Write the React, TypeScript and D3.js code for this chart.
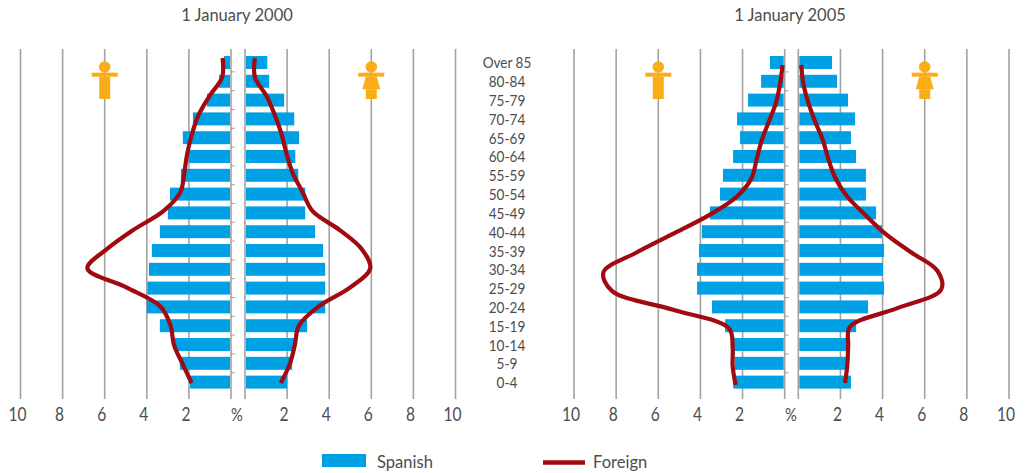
import React from "react";
import * as d3 from "d3";

const ageGroups = ["Over 85","80-84","75-79","70-74","65-69","60-64","55-59","50-54","45-49","40-44","35-39","30-34","25-29","20-24","15-19","10-14","5-9","0-4"];
const axisTicks = [2,4,6,8,10];

const spanishMale2000 = [0.33,0.57,1.14,1.81,2.29,2.0,2.38,2.9,3.0,3.38,3.76,3.9,3.97,4.0,3.38,2.67,2.43,1.95];
const spanishFemale2000 = [1.06,1.15,1.86,2.34,2.57,2.39,2.53,2.86,2.86,3.33,3.71,3.81,3.81,3.81,2.95,2.34,2.24,2.0];
const foreignMale2000 = [0.4,0.42,1.03,1.55,1.86,2.08,2.22,2.4,3.2,4.65,5.9,6.82,4.97,3.35,2.87,2.71,2.3,1.87];
const foreignFemale2000 = [0.47,0.47,1.03,1.42,1.74,1.97,2.26,2.73,3.2,4.5,5.55,5.95,5.0,3.5,2.56,2.37,2.13,1.7];

const spanishMale2005 = [0.7,1.12,1.74,2.26,2.12,2.45,2.93,3.07,3.55,3.93,4.07,4.16,4.16,3.45,2.83,2.41,2.37,2.44];
const spanishFemale2005 = [1.6,1.84,2.36,2.69,2.5,2.74,3.21,3.21,3.69,3.97,4.07,4.02,4.07,3.31,2.74,2.33,2.26,2.5];
const foreignMale2005 = [0.1,0.22,0.41,0.75,1.09,1.33,1.57,2.28,3.63,5.36,7.1,8.6,8.2,5.3,2.64,2.47,2.47,2.33];
const foreignFemale2005 = [0.14,0.24,0.47,0.79,1.16,1.42,1.74,2.3,3.17,4.11,5.33,6.6,6.78,4.7,2.45,2.37,2.33,2.22];

const FONT = "'Lato',sans-serif";
const TEXT = "#4d4d4d";
const GRID = "#a3a3a3";
const BLUE = "#00a1e4";
const RED = "#a00a10";
const ORANGE = "#fbad18";

const yBand = d3.scaleBand<string>().domain(ageGroups).range([56, 388.6]).paddingInner(0.31);

function Txt({ x, y, size, sx, anchor = "middle", children }: { x: number; y: number; size: number; sx: number; anchor?: string; children: React.ReactNode }) {
  return (
    <text transform={`translate(${x},${y}) scale(${sx},1)`} textAnchor={anchor as any} fontSize={size} fill={TEXT} fontFamily={FONT}>
      {children}
    </text>
  );
}

function Figure({ cx, female }: { cx: number; female: boolean }) {
  return (
    <g fill={ORANGE}>
      <circle cx={cx} cy={67} r={5.8} />
      <rect x={cx - 13} y={72.7} width={26} height={4} />
      {female ? (
        <>
          <path d={`M${cx - 5.5},76.7 L${cx + 5.5},76.7 L${cx + 9},89.3 L${cx - 9},89.3 Z`} />
          <rect x={cx - 5.5} y={89.3} width={11} height={9.7} />
        </>
      ) : (
        <rect x={cx - 5.5} y={76.7} width={11} height={22.3} />
      )}
    </g>
  );
}

function Panel(props: {
  title: string; titleX: number; zeroM: number; zeroF: number; unit: number; pctX: number;
  spM: number[]; spF: number[]; foM: number[]; foF: number[];
  lineTopM: number; lineBotM: number; lineTopF: number; lineBotF: number;
}) {
  const { title, titleX, zeroM, zeroF, unit, pctX, spM, spF, foM, foF } = props;
  const xM = d3.scaleLinear().domain([0, 10]).range([zeroM, zeroM - 10 * unit]);
  const xF = d3.scaleLinear().domain([0, 10]).range([zeroF, zeroF + 10 * unit]);
  const yM = d3.scalePoint<string>().domain(ageGroups).range([props.lineTopM, props.lineBotM]);
  const yF = d3.scalePoint<string>().domain(ageGroups).range([props.lineTopF, props.lineBotF]);
  const lineM = d3.line<number>().x((d) => xM(d)).y((_, i) => yM(ageGroups[i])!).curve(d3.curveCatmullRom.alpha(0.5));
  const lineF = d3.line<number>().x((d) => xF(d)).y((_, i) => yF(ageGroups[i])!).curve(d3.curveCatmullRom.alpha(0.5));
  const tickYs = ageGroups.slice(1).map((a) => yBand(a)! - (yBand.step() - yBand.bandwidth()) / 2);
  const labelY = 421;
  return (
    <g>
      <Txt x={titleX} y={21} size={18} sx={0.92}>{title}</Txt>
      {[0, ...axisTicks].map((t) => (
        <g key={t}>
          <line x1={xM(t)} x2={xM(t)} y1={49} y2={399} stroke={GRID} strokeWidth={1.6} />
          <line x1={xF(t)} x2={xF(t)} y1={49} y2={399} stroke={GRID} strokeWidth={1.6} />
        </g>
      ))}
      {tickYs.map((y, i) => (
        <line key={i} x1={zeroM} x2={zeroM + 4} y1={y} y2={y} stroke={GRID} strokeWidth={1} />
      ))}
      {axisTicks.map((t) => (
        <g key={t}>
          <Txt x={xM(t) - 3} y={labelY} size={19} sx={0.82}>{t}</Txt>
          <Txt x={xF(t) - 3} y={labelY} size={19} sx={0.82}>{t}</Txt>
        </g>
      ))}
      <Txt x={pctX} y={labelY} size={18} sx={0.82}>%</Txt>
      <Figure cx={xM(6)} female={false} />
      <Figure cx={xF(6)} female={true} />
      {ageGroups.map((a, i) => (
        <g key={a} fill={BLUE}>
          <rect x={xM(spM[i])} y={yBand(a)!} width={xM(0) - 1 - xM(spM[i])} height={yBand.bandwidth()} />
          <rect x={xF(0) + 1} y={yBand(a)!} width={xF(spF[i]) - xF(0) - 1} height={yBand.bandwidth()} />
        </g>
      ))}
      <path d={lineM(foM)!} fill="none" stroke={RED} strokeWidth={4.2} strokeLinejoin="round" />
      <path d={lineF(foF)!} fill="none" stroke={RED} strokeWidth={4.2} strokeLinejoin="round" />
    </g>
  );
}

export default function App() {
  return (
    <svg width={1032} height={473} style={{ position: "absolute", left: 0, top: 0 }}>
      <Panel title="1 January 2000" titleX={237} zeroM={231} zeroF={245} unit={21.05} pctX={237}
        spM={spanishMale2000} spF={spanishFemale2000} foM={foreignMale2000} foF={foreignFemale2000}
        lineTopM={58} lineBotM={383} lineTopF={58} lineBotF={383} />
      <Panel title="1 January 2005" titleX={790} zeroM={784.7} zeroF={798.3} unit={21.07} pctX={791}
        spM={spanishMale2005} spF={spanishFemale2005} foM={foreignMale2005} foF={foreignFemale2005}
        lineTopM={65} lineBotM={385} lineTopF={65} lineBotF={383} />
      {ageGroups.map((a) => (
        <Txt key={a} x={507} y={yBand(a)! + yBand.bandwidth() / 2 + 6} size={15.6} sx={0.87}>{a}</Txt>
      ))}
      <rect x={322} y={454} width={44} height={13} fill={BLUE} />
      <Txt x={377} y={468} size={18} sx={0.92} anchor="start">Spanish</Txt>
      <line x1={543} x2={585} y1={462.5} y2={462.5} stroke={RED} strokeWidth={4.5} />
      <Txt x={593} y={468} size={18} sx={0.92} anchor="start">Foreign</Txt>
    </svg>
  );
}
